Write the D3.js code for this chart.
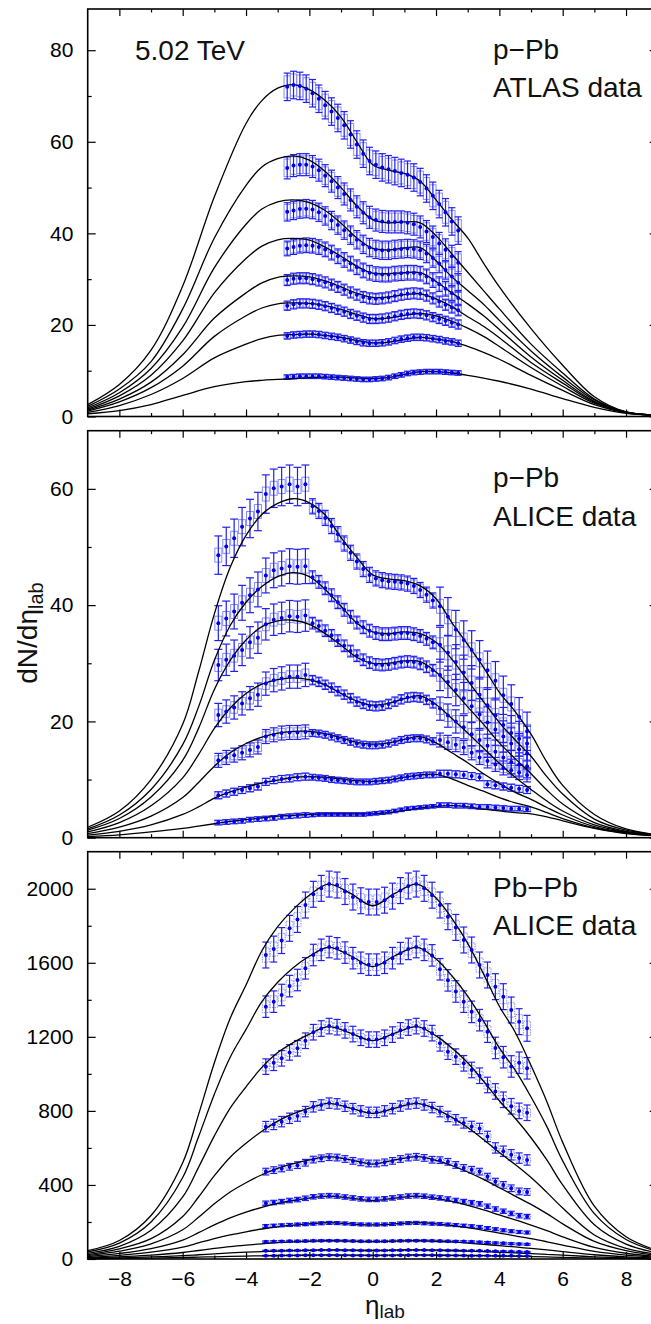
<!DOCTYPE html>
<html><head><meta charset="utf-8">
<script src="https://cdn.jsdelivr.net/npm/d3@7"></script>
<style>body{margin:0;background:#fff}svg{display:block}</style>
</head><body><svg id="c" width="651" height="1324"></svg>
<script>
// ---------- x positions ----------
const xTicksMajor = [-8,-6,-4,-2,0,2,4,6,8];
const xTicksMinor = [-7,-5,-3,-1,1,3,5,7];

// ---------- Panel 1: p-Pb ATLAS ----------
const etaGridA = [-9,-8,-7,-6,-5,-4,-3.5,-3,-2.5,-2,-1.5,-1,-0.5,0,0.5,1,1.5,2,2.5,3,3.5,4,5,6,7,8,9];
const atlasTheory = [
 [2.6,7.0,14.5,28.5,48,64,69,71.7,72.5,71.4,69,65.4,60,55,53.8,53.1,51.4,47.3,43,39,33.5,28.3,19.2,11.2,4.3,1.0,0.3],
 [2.2,6.0,12.0,23.5,39,50.5,54.5,56.3,56.9,56.0,53.5,50.0,46.0,43.0,42.3,42.5,42.3,39.5,35.5,31.5,27.5,23.5,15.8,9.5,3.8,1.0,0.3],
 [1.9,5.2,10.5,19.5,32.5,42,45.3,46.9,47.3,46.7,45,42.2,39,36.7,36.4,36.8,36.9,34,30.5,27.5,24.5,21,14.3,8.6,3.6,0.95,0.3],
 [1.6,4.5,9,16.5,27,34.5,37.2,38.6,38.9,38.5,37,35,32.8,31.3,31.2,31.4,31.4,29.5,27.0,24.6,22,19,13,7.9,3.3,0.9,0.3],
 [1.4,3.8,7.5,13.5,21.5,27,29.2,30.4,30.7,30.5,29.6,28.3,26.9,26,26.1,26.6,26.8,25.7,24.0,21.8,19.7,17.2,11.8,7.3,3.1,0.9,0.3],
 [1.2,3.2,6.3,11,17.5,22,23.7,24.6,24.8,24.7,24.2,23.4,22.3,21.4,21.5,22.1,22.5,22,20.8,19.3,17.5,15.3,10.7,6.6,2.9,0.85,0.3],
 [0.9,2.4,4.8,8.3,12.8,15.8,17,17.7,17.9,18,17.7,17.3,16.6,16.1,16.2,16.8,17.3,16.9,16.4,15.3,14,12.5,9,5.7,2.6,0.8,0.3],
 [0.6,1.3,2.6,4.6,6.5,7.6,7.9,8.1,8.3,8.5,8.6,8.6,8.4,8.3,8.5,9.2,9.8,9.8,9.5,9.0,8.4,7.7,6.0,3.9,2.0,0.7,0.3]
];
const etaAtlas = [-2.7,-2.5,-2.3,-2.1,-1.9,-1.7,-1.5,-1.3,-1.1,-0.9,-0.7,-0.5,-0.3,-0.1,0.1,0.3,0.5,0.7,0.9,1.1,1.3,1.5,1.7,1.9,2.1,2.3,2.5,2.7];
const atlasData = [
 [72.0,72.4,72.2,71.6,70.6,69.4,68.0,66.6,65.2,63.6,61.6,59.4,57.4,55.8,55.0,54.4,54.0,53.6,53.2,52.8,52.2,51.2,49.8,48.2,46.4,44.6,42.6,40.6],
 [54.3,54.8,55.0,55.0,54.6,53.8,52.6,51.4,50.0,48.6,47.3,45.8,44.5,43.5,42.9,42.6,42.5,42.5,42.5,42.3,42.0,41.4,40.4,39.2,37.8,36.4,35.0,33.6],
 [44.7,45.0,45.3,45.4,45.2,44.6,43.8,42.8,41.8,40.7,39.6,38.6,37.6,36.9,36.5,36.3,36.3,36.5,36.6,36.7,36.6,36.3,35.6,34.6,33.4,32.0,30.6,29.2],
 [36.7,37.0,37.3,37.4,37.3,37.0,36.5,35.8,35.0,34.2,33.4,32.6,31.9,31.4,31.1,31.0,31.0,31.2,31.3,31.4,31.4,31.2,30.6,29.8,28.9,27.9,26.9,25.9],
 [29.8,30.1,30.2,30.2,30.0,29.7,29.3,28.8,28.3,27.7,27.1,26.6,26.1,25.8,25.7,25.8,26.0,26.3,26.6,26.8,26.9,26.8,26.4,25.8,25.1,24.4,23.8,23.2],
 [24.2,24.5,24.7,24.7,24.6,24.4,24.1,23.7,23.3,22.9,22.4,22.0,21.6,21.3,21.3,21.4,21.6,21.9,22.2,22.4,22.5,22.4,22.1,21.7,21.3,20.9,20.5,20.1],
 [17.6,17.8,17.9,18.0,18.0,17.9,17.7,17.5,17.3,17.0,16.7,16.4,16.1,16.0,16.0,16.1,16.3,16.6,16.9,17.1,17.3,17.3,17.2,17.0,16.8,16.5,16.3,16.0],
 [8.6,8.7,8.8,8.8,8.8,8.8,8.7,8.6,8.5,8.4,8.3,8.2,8.1,8.1,8.2,8.3,8.5,8.8,9.1,9.4,9.6,9.7,9.8,9.8,9.8,9.7,9.6,9.5]
];
const atlasErr = [3.0,2.4,2.0,1.6,1.2,1.0,0.7,0.5];

// ---------- Panel 2: p-Pb ALICE ----------
const etaGridB = [-9,-8,-7,-6,-5.5,-5,-4.5,-4,-3.5,-3,-2.5,-2,-1.5,-1,-0.5,0,0.5,1,1.5,2,2.5,3,3.5,4,4.5,5,5.5,6,7,8,9];
const aliceTheory = [
 [1.8,4.6,10,19.5,28.5,38.5,46.5,52,55.6,57.5,58.3,57.6,55.5,51.6,48.2,45.2,44.5,44.2,43.3,41.1,37.0,33.2,29.3,25.0,21.7,17.8,13,9,4,1.5,0.5],
 [1.5,3.9,8.3,16,22.5,30.5,36.5,40.5,43.2,44.9,45.6,44.9,42.7,39.8,36.9,35.4,35.1,35.4,35.1,33.6,30.7,27.0,23.4,19.8,16.8,14.0,10.5,7.5,3.2,1.3,0.5],
 [1.3,3.3,7,13.3,18.8,25.5,30.5,34,36.3,37.3,37.4,36.7,35.1,33.1,31.0,30.0,30.0,30.4,30.3,28.5,25.6,22.5,19.5,16.3,13.6,11.0,8.2,5.8,2.6,1.1,0.4],
 [1.0,2.6,5.5,10.3,14.3,18.8,22.3,24.8,26.4,27.2,27.5,27.2,26.3,24.8,23.5,22.8,23.1,23.9,24.4,22.9,20.5,18.0,15.4,12.8,10.4,8.3,6.3,4.6,2.2,1.0,0.4],
 [0.7,1.8,3.7,6.9,9.5,12.3,14.6,16.2,17.3,18.0,18.3,18.3,17.9,17.2,16.4,16.1,16.3,16.9,17.4,16.3,14.6,12.9,11.0,9.3,7.8,6.6,5.2,3.9,1.9,0.9,0.4],
 [0.45,1.1,2.2,4.0,5.3,6.8,7.9,8.7,9.4,9.9,10.4,10.5,10.4,10.1,9.8,9.7,9.9,10.4,10.8,10.9,10.1,9.0,8.0,6.9,6.0,5.3,4.3,3.3,1.7,0.8,0.3],
 [0.2,0.5,1.0,1.6,2.0,2.4,2.8,3.1,3.4,3.7,3.85,4.0,4.1,4.1,4.1,4.1,4.3,4.7,5.1,5.4,5.5,5.3,4.9,4.6,4.3,4.1,3.6,2.9,1.6,0.7,0.3]
];
const etaAliceL = [-4.875,-4.625,-4.375,-4.125,-3.875,-3.625,-3.375,-3.125,-2.875,-2.625,-2.375,-2.125];
const etaAliceC = [-1.9,-1.7,-1.5,-1.3,-1.1,-0.9,-0.7,-0.5,-0.3,-0.1,0.1,0.3,0.5,0.7,0.9,1.1,1.3,1.5,1.7,1.9];
const etaAliceR = [2.125,2.375,2.625,2.875,3.125,3.375,3.625,3.875,4.125,4.375,4.625,4.875];
const aliceLeft = [
 [48.6,50.1,51.5,53.5,54.9,56.1,59.1,60.1,60.4,60.8,60.4,60.8],
 [36.9,37.7,38.9,40.4,41.7,42.7,45.1,46.0,46.3,46.7,46.6,46.7],
 [29.7,30.6,31.3,32.3,33.6,34.4,36.7,37.5,37.8,38.1,38.0,38.2],
 [21.1,21.7,22.4,23.1,24.0,24.6,26.5,27.1,27.4,27.7,27.7,28.0],
 [13.3,13.8,14.2,14.6,15.1,15.6,17.4,17.7,18.0,18.1,18.1,18.2],
 [7.3,7.6,7.9,8.2,8.5,8.8,9.6,9.9,10.1,10.2,10.4,10.5],
 [2.6,2.7,2.8,2.9,3.1,3.2,3.3,3.4,3.6,3.7,3.8,3.9]
];
const aliceMid = [
 [57.0,56.2,55.0,53.6,52.2,50.6,49.0,47.5,46.2,45.2,44.6,44.3,44.1,44.0,43.9,43.7,43.3,42.6,41.8,40.8],
 [44.8,44.0,42.9,41.7,40.5,39.2,38.0,37.0,36.2,35.6,35.2,35.0,35.0,35.1,35.2,35.2,35.0,34.7,34.2,33.6],
 [36.9,36.4,35.6,34.8,33.9,33.0,32.1,31.3,30.6,30.1,29.8,29.7,29.8,30.0,30.2,30.3,30.2,29.9,29.4,28.8],
 [27.1,26.8,26.3,25.8,25.2,24.6,24.0,23.4,23.0,22.7,22.6,22.7,23.0,23.4,23.8,24.1,24.2,24.1,23.7,23.1],
 [18.0,17.9,17.7,17.4,17.1,16.8,16.5,16.2,16.0,15.9,15.9,16.0,16.2,16.5,16.8,17.0,17.1,17.1,16.9,16.6],
 [10.4,10.3,10.2,10.0,9.9,9.8,9.7,9.6,9.6,9.6,9.7,9.8,9.9,10.1,10.3,10.5,10.6,10.7,10.8,10.8],
 [3.9,4.0,4.0,4.0,4.0,4.0,4.0,4.0,4.0,4.1,4.2,4.3,4.4,4.6,4.8,5.0,5.1,5.2,5.3,5.4]
];
const aliceRight = [
 [39.8,38.0,35.8,34.0,32.3,30.6,28.8,27.0,24.5,23.0,20.8,18.3],
 [33.2,31.8,30.2,28.4,26.6,24.6,22.8,21.0,19.4,18.0,17.0,16.2],
 [28.0,26.8,25.4,24.0,22.6,21.2,19.8,18.6,17.4,16.2,15.2,14.5],
 [22.2,21.0,20.0,19.0,17.8,16.8,15.8,14.8,13.8,13.0,12.6,12.3],
 [16.8,16.4,16.0,15.5,14.6,13.8,13.2,12.6,12.0,11.6,11.2,10.8],
 [11.0,11.0,10.9,10.8,10.6,10.4,9.2,9.0,8.8,8.6,8.4,8.2],
 [5.6,5.6,5.5,5.5,5.4,5.3,5.3,5.2,5.1,5.0,5.0,4.9]
];
const aliceErrFwd = [3.3,3.0,2.7,2.0,1.2,0.6,0.4];
const aliceErrMid = [1.3,1.1,1.0,0.8,0.6,0.5,0.3];

// ---------- Panel 3: Pb-Pb ALICE ----------
const etaGridC = [-9,-8,-7,-6,-5.5,-5,-4.5,-4,-3.5,-3,-2.5,-2,-1.4,-0.7,0,0.7,1.4,2,2.5,3,3.5,4,4.5,5,5.5,6,7,8,9];
const pbTheory = [
 [45,100,235,520,780,1060,1300,1480,1665,1795,1890,1965,2025,1975,1908,1975,2025,1950,1840,1705,1540,1365,1225,1045,850,630,285,120,45],
 [38,86,200,440,660,890,1090,1240,1390,1495,1575,1635,1683,1638,1579,1638,1683,1620,1530,1420,1285,1140,1020,875,715,530,245,105,40],
 [30,68,155,335,495,665,815,930,1035,1115,1170,1215,1255,1220,1179,1220,1255,1205,1140,1060,960,855,760,655,535,400,185,80,32],
 [24,55,110,230,335,450,550,625,690,745,785,815,841,815,787,815,841,810,765,710,645,575,510,440,360,275,130,58,25],
 [18,42,82,158,225,298,362,412,455,490,515,535,553,535,513,535,553,533,505,470,430,385,340,295,245,190,95,45,19],
 [13,30,56,102,142,184,222,253,279,300,316,329,340,329,315,329,340,328,311,290,265,238,211,183,153,120,63,31,14],
 [8,20,37,64,87,110,130,147,162,174,183,190,196,190,184,190,196,190,181,169,155,140,125,110,93,75,41,21,9],
 [4,12,21,35,46,57,67,75,82,88,92,96,99,97,94,97,99,96,92,86,79,72,65,57,49,40,23,12,5],
 [2,6,11,18,23,28,33,37,40,43,45,47,49,48,46,48,49,48,46,43,40,36,33,29,25,21,12,6,3],
 [1,3,5,8,10,12,14,16,17,19,20,21,22,21,20,21,22,21,20,19,18,16,15,13,11,9,5,3,1]
];
const etaPb = [-3.375,-3.125,-2.875,-2.625,-2.375,-2.125,-1.875,-1.625,-1.375,-1.125,-0.875,-0.625,-0.375,-0.125,0.125,0.375,0.625,0.875,1.125,1.375,1.625,1.875,2.125,2.375,2.625,2.875,3.125,3.375,3.625,3.875,4.125,4.375,4.625,4.875];
const pbData = [
 [1642,1674,1720,1786,1834,1912,1970,2002,2025,2020,1985,1955,1935,1928,1928,1938,1960,1990,2015,2025,2002,1965,1912,1849,1791,1723,1669,1588,1534,1471,1417,1345,1282,1246],
 [1363,1390,1426,1474,1507,1570,1642,1670,1685,1678,1655,1625,1600,1590,1590,1600,1625,1652,1675,1685,1670,1640,1565,1505,1445,1390,1335,1290,1228,1140,1090,1040,1060,1030],
 [1039,1060,1084,1116,1138,1179,1225,1245,1258,1252,1235,1215,1195,1185,1185,1195,1212,1235,1250,1258,1245,1220,1165,1120,1093,1057,1021,990,940,905,860,825,800,790],
 [715,727,742,760,772,796,822,832,842,838,825,812,800,792,792,800,812,826,838,842,832,818,796,770,752,735,716,705,662,600,582,563,545,535],
 [472,480,489,498,507,520,537,544,550,548,540,530,522,516,516,522,530,540,548,552,546,536,534,525,508,492,482,472,445,418,400,382,365,362],
 [301,305,310,316,321,328,336,340,342,340,335,330,325,322,322,325,330,335,340,342,339,334,330,324,316,310,304,298,285,270,258,246,234,229],
 [178,180,182,184,186,188,191,193,195,194,192,189,187,186,186,187,189,192,194,195,193,191,189,186,183,180,177,173,167,161,155,150,146,143],
 [93,94,95,96,96,97,98,99,99,99,98,97,96,96,96,96,97,98,99,99,99,98,97,96,95,94,93,91,89,87,85,83,81,79],
 [44,45,45,46,46,47,47,48,48,48,47,47,46,46,46,46,47,47,48,48,48,47,47,46,46,45,45,44,43,42,41,40,39,38],
 [18,18,19,19,19,20,20,20,20,20,20,19,19,19,19,19,19,20,20,20,20,20,19,19,19,19,18,18,18,17,17,17,16,16]
];
const pbErr = [70,58,42,28,18,12,8,5,3,2];

// ---------- labels ----------
const panelLabels = [["p\u2212Pb","ATLAS data"],["p\u2212Pb","ALICE data"],["Pb\u2212Pb","ALICE data"]];
const energyLabel = "5.02 TeV";

// ================= drawing =================
const svg = d3.select("#c");
const FONT = "'Liberation Sans', Arial, Helvetica, sans-serif";
const X0 = 87.7, X1 = 657.7;
const x = d3.scaleLinear().domain([-9, 9]).range([X0, X1]);

const panels = [
  {top: 9, bottom: 416.5, max: 89, major: [0,20,40,60,80], minor: [10,30,50,70]},
  {top: 430.7, bottom: 837.7, max: 70, major: [0,20,40,60], minor: [10,30,50]},
  {top: 851.7, bottom: 1259, max: 2200, major: [0,400,800,1200,1600,2000], minor: [200,600,1000,1400,1800]}
];
panels.forEach(p => { p.y = d3.scaleLinear().domain([0, p.max]).range([p.bottom, p.top]); });

const BAR = "#1f1ff2", BOX = "#8a8cff", DOT = "#0000e6";
const line = (y) => d3.line().x(d => x(d[0])).y(d => y(d[1])).curve(d3.curveCatmullRom.alpha(0.5));

function axes(p, showX) {
  const g = svg.append("g");
  const style = sel => { sel.select(".domain").remove(); sel.selectAll("line").attr("stroke","#000").attr("stroke-width",1.2); sel.selectAll("text").attr("font-family",FONT).attr("font-size",21).attr("fill","#000"); };
  g.append("g").attr("transform",`translate(${X0},0)`).call(d3.axisLeft(p.y).tickValues(p.major).tickSizeInner(-8).tickSizeOuter(0).tickPadding(14.4).tickFormat(d3.format("d"))).call(style);
  g.append("g").attr("transform",`translate(${X0},0)`).call(d3.axisLeft(p.y).tickValues(p.minor).tickSizeInner(-4).tickSizeOuter(0).tickFormat("")).call(style);
  g.append("g").attr("transform",`translate(${X1},0)`).call(d3.axisRight(p.y).tickValues(p.major).tickSizeInner(-8).tickSizeOuter(0).tickFormat("")).call(style);
  g.append("g").attr("transform",`translate(${X1},0)`).call(d3.axisRight(p.y).tickValues(p.minor).tickSizeInner(-4).tickSizeOuter(0).tickFormat("")).call(style);
  g.append("g").attr("transform",`translate(0,${p.top})`).call(d3.axisTop(x).tickValues(xTicksMajor).tickSizeInner(-7).tickSizeOuter(0).tickFormat("")).call(style);
  g.append("g").attr("transform",`translate(0,${p.top})`).call(d3.axisTop(x).tickValues(xTicksMinor).tickSizeInner(-3.5).tickSizeOuter(0).tickFormat("")).call(style);
  const b = d3.axisBottom(x).tickValues(xTicksMajor).tickSizeInner(-7).tickSizeOuter(0).tickPadding(12);
  if (showX) b.tickFormat(d3.format("d")); else b.tickFormat("");
  g.append("g").attr("transform",`translate(0,${p.bottom})`).call(b).call(style);
  g.append("g").attr("transform",`translate(0,${p.bottom})`).call(d3.axisBottom(x).tickValues(xTicksMinor).tickSizeInner(-3.5).tickSizeOuter(0).tickFormat("")).call(style);
  svg.append("rect").attr("x",X0).attr("y",p.top).attr("width",X1-X0).attr("height",p.bottom-p.top)
    .attr("fill","none").attr("stroke","#000").attr("stroke-width",1.6);
}

// layers
const L = {boxes: svg.append("g"), bars: svg.append("g"), curves: svg.append("g"), dots: svg.append("g")};

function points(y, etas, vals, err, hw, hh, capW, boxDash) {
  etas.forEach((e, i) => {
    const v = vals[i];
    if (hh > 0) {
      L.boxes.append("rect").attr("x", x(e - hw)).attr("width", x(e + hw) - x(e - hw))
        .attr("y", y(v + hh)).attr("height", y(v - hh) - y(v + hh))
        .attr("fill","none").attr("stroke",BOX).attr("stroke-width",1)
        .attr("stroke-dasharray", boxDash || null);
    }
    const xc = x(e), yt = y(v + err), yb = y(v - err);
    L.bars.append("line").attr("x1",xc).attr("x2",xc).attr("y1",yt).attr("y2",yb).attr("stroke",BAR).attr("stroke-width",1.2);
    L.bars.append("line").attr("x1",xc-capW).attr("x2",xc+capW).attr("y1",yt).attr("y2",yt).attr("stroke",BAR).attr("stroke-width",1.2);
    L.bars.append("line").attr("x1",xc-capW).attr("x2",xc+capW).attr("y1",yb).attr("y2",yb).attr("stroke",BAR).attr("stroke-width",1.2);
    L.dots.append("circle").attr("cx",xc).attr("cy",y(v)).attr("r",2).attr("fill",DOT);
  });
}
function curves(y, grid, sets) {
  sets.forEach(vals => {
    L.curves.append("path").datum(grid.map((g, i) => [g, vals[i]]))
      .attr("d", line(y)).attr("fill","none").attr("stroke","#000").attr("stroke-width",1.3);
  });
}

// Panel 1
const P1 = panels[0];
atlasData.forEach((s, k) => points(P1.y, etaAtlas, s, atlasErr[k], 0.1, atlasErr[k]*0.8, 3.5));
curves(P1.y, etaGridA, atlasTheory);
// Panel 2
const P2 = panels[1];
const aliceBoxFwd = [1.2,1.2,1.1,1.0,0.8,0.6,0.35];
aliceLeft.forEach((s, k) => points(P2.y, etaAliceL, s, aliceErrFwd[k], 0.11, aliceBoxFwd[k], 4));
aliceMid.forEach((s, k) => points(P2.y, etaAliceC, s, aliceErrMid[k], 0.1, aliceErrMid[k]*0.8, 3.5));
aliceRight.forEach((s, k) => points(P2.y, etaAliceR, s, aliceErrFwd[k], 0.11, aliceBoxFwd[k], 4));
curves(P2.y, etaGridB, aliceTheory);
// Panel 3
const P3 = panels[2];
pbData.forEach((s, k) => points(P3.y, etaPb, s, pbErr[k], 0.11, pbErr[k]*0.55, 3.5, "1.5,1"));
curves(P3.y, etaGridC, pbTheory);

panels.forEach((p, i) => axes(p, i === 2));

// texts
const T = (xx, yy, s, size) => svg.append("text").attr("x",xx).attr("y",yy).attr("font-family",FONT).attr("font-size",size).attr("fill","#111").text(s);
T(135, 60, energyLabel, 28);
const labelY = [[59, 97], [487, 526], [897, 935]];
panelLabels.forEach((pl, i) => { T(493, labelY[i][0], pl[0], 28); T(493, labelY[i][1], pl[1], 28); });

// y-axis title
const yt = svg.append("text").attr("transform","translate(37,633) rotate(-90)").attr("text-anchor","middle")
  .attr("font-family",FONT).attr("font-size",28).attr("fill","#111");
yt.append("tspan").text("dN/d\u03b7");
yt.append("tspan").attr("font-size",20).attr("dy",6).text("lab");
// x-axis title
const xt = svg.append("text").attr("x",385).attr("y",1314).attr("text-anchor","middle")
  .attr("font-family",FONT).attr("font-size",26).attr("fill","#111");
xt.append("tspan").text("\u03b7");
xt.append("tspan").attr("font-size",19).attr("dy",4).text("lab");
</script></body></html>
